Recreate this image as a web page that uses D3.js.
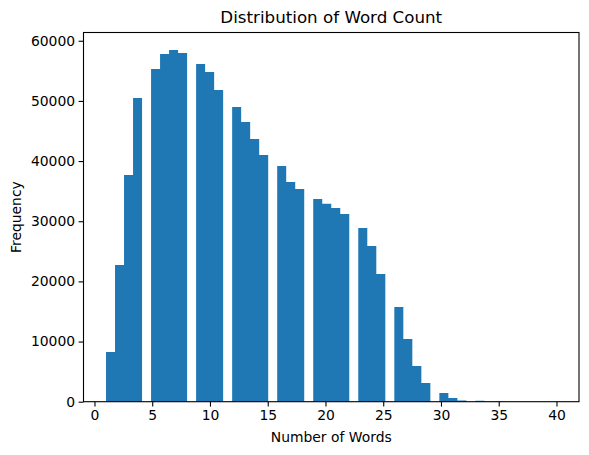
<!DOCTYPE html>
<html><head><meta charset="utf-8">
<script src="https://cdn.jsdelivr.net/npm/d3@7"></script>
<style>body{margin:0;background:#fff}text{font-family:"DejaVu Sans",sans-serif}</style>
</head><body><svg id="c" width="589" height="455"></svg>
<script>
// word count value -> frequency
const wordCounts = [1,2,3,4,5,6,7,8,9,10,11,12,13,14,15,16,17,18,19,20,21,22,23,24,25,26,27,28,29,30,31,32,33,34,35,36,37,38,39,40];
const frequencies = [8260,22720,37680,50470,55290,57790,58450,57950,56120,54800,51800,48980,46480,43660,41000,39170,36510,35350,33690,32910,32190,31190,28870,25880,21220,15740,10420,5930,3110,1440,610,200,170,40,20,10,5,3,2,1];
const xTicks = [0,5,10,15,20,25,30,35,40];
const yTicks = [0,10000,20000,30000,40000,50000,60000];
const binCount = 50;

const svg = d3.select("#c");
const L = 83.5, R = 579, T = 32.5, B = 401.7;
const lo = d3.min(wordCounts), hi = d3.max(wordCounts);
const step = (hi - lo) / binCount;
const edges = d3.range(binCount + 1).map(i => lo + i * step);
const bins = d3.range(binCount).map(i => ({x0: edges[i], x1: edges[i+1], n: 0}));
wordCounts.forEach((w, k) => {
  let i = Math.min(binCount - 1, Math.floor((w - lo) / step + 1e-9));
  bins[i].n += frequencies[k];
});
const pad = (hi - lo) * 0.05;
const x = d3.scaleLinear().domain([lo - pad, hi + pad]).range([L, R]);
const ymax = d3.max(bins, b => b.n) * 1.05;
const y = d3.scaleLinear().domain([0, ymax]).range([B, T]);

// group contiguous non-empty bins into one seamless outline each
const groups = [];
let cur = null;
bins.forEach(b => {
  if (b.n > 0) { if (!cur) { cur = []; groups.push(cur); } cur.push(b); }
  else cur = null;
});
const line = d3.line();
svg.append("g").selectAll("path").data(groups).join("path")
  .attr("d", g => {
    const pts = [[x(g[0].x0), y(0)]];
    g.forEach(b => { pts.push([x(b.x0), y(b.n)], [x(b.x1), y(b.n)]); });
    pts.push([x(g[g.length - 1].x1), y(0)]);
    return line(pts) + "Z";
  })
  .attr("fill", "#1f77b4");

const xa = svg.append("g").attr("transform", `translate(0,${B})`)
  .call(d3.axisBottom(x).tickValues(xTicks).tickFormat(d3.format("d")).tickSize(4.9).tickPadding(3.5));
const ya = svg.append("g").attr("transform", `translate(${L},0)`)
  .call(d3.axisLeft(y).tickValues(yTicks).tickFormat(d3.format("d")).tickSize(4.9).tickPadding(3.5));
[xa, ya].forEach(g => {
  g.select(".domain").remove();
  g.selectAll("line").attr("stroke", "#000").attr("stroke-width", 1.1);
  g.selectAll("text").attr("font-size", 13.9).attr("fill", "#000").attr("font-family", "DejaVu Sans");
});
svg.append("rect").attr("x", L).attr("y", T).attr("width", R - L).attr("height", B - T)
  .attr("fill", "none").attr("stroke", "#000").attr("stroke-width", 1.1);

svg.append("text").attr("x", (L + R) / 2).attr("y", 23).attr("text-anchor", "middle")
  .attr("font-size", 16.7).text("Distribution of Word Count");
svg.append("text").attr("x", (L + R) / 2).attr("y", 442).attr("text-anchor", "middle")
  .attr("font-size", 13.9).text("Number of Words");
svg.append("text").attr("transform", `translate(21,${(T + B) / 2}) rotate(-90)`).attr("text-anchor", "middle")
  .attr("font-size", 13.9).text("Frequency");
</script></body></html>
